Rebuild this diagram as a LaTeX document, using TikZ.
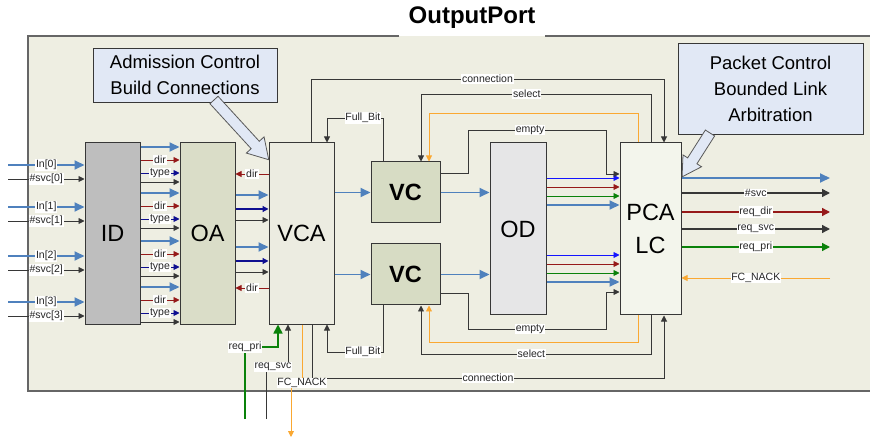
\documentclass[tikz,border=0pt]{standalone}
\usepackage{fontspec}
\setmainfont{Liberation Sans}
\usetikzlibrary{arrows.meta}
\definecolor{portbg}{RGB}{238,238,226}
\definecolor{lnsteel}{RGB}{79,129,189}
\definecolor{lnred}{RGB}{150,25,25}
\definecolor{lnnavy}{RGB}{15,15,145}
\definecolor{lnblue}{RGB}{20,20,255}
\definecolor{lngreen}{RGB}{10,130,10}
\definecolor{lnorange}{RGB}{250,168,50}
\definecolor{lnwire}{RGB}{55,55,55}
\definecolor{notebg}{RGB}{225,232,245}
\definecolor{idfill}{RGB}{190,190,190}
\definecolor{oafill}{RGB}{218,221,200}
\definecolor{vcfill}{RGB}{215,220,196}
\definecolor{vcafill}{RGB}{236,236,225}
\definecolor{odfill}{RGB}{230,230,231}
\definecolor{pcafill}{RGB}{243,245,236}
\begin{document}
\begin{tikzpicture}[x=1pt,y=-1pt,blk/.style={draw=lnwire, line width=1pt, inner sep=0pt, align=center, font=\fontsize{23.5}{33}\selectfont},note/.style={draw=lnwire, line width=0.9pt, fill=notebg, inner sep=0pt, align=center, font=\fontsize{18.5}{26}\selectfont},lbl/.style={fill=white, text=black!85, inner sep=0.7pt, font=\fontsize{10.5}{12}\selectfont},sig/.style={color=lnwire, line width=0.9pt, -{Triangle[length=6pt,width=6pt]}},wide/.style={line width=1.4pt, -{Triangle[length=8pt,width=8pt]}},bus/.style={color=lnsteel, line width=1.8pt, -{Triangle[length=10pt,width=9pt]}},pointer/.style={draw=gray!70!black, line width=0.8pt, fill=notebg}]
\useasboundingbox (0,0) rectangle (870,438);
\fill[portbg] (28,36) rectangle (870,391);
\draw[gray!80!black, line width=1.3pt] (399,36) -- (28,36) -- (28,391) -- (870,391) (545,36) -- (870,36);
\node[font=\bfseries\fontsize{24}{26}\selectfont, anchor=base] (title) at (472,24) {OutputPort};
\node[blk, fill=idfill, minimum width=55pt, minimum height=181pt] (ID) at (112.5,233.5) {ID};
\node[blk, fill=oafill, minimum width=55pt, minimum height=181pt] (OA) at (207.5,233.5) {OA};
\node[blk, fill=vcafill, minimum width=65pt, minimum height=181pt] (VCA) at (301.5,233.5) {VCA};
\node[blk, fill=vcfill, minimum width=69pt, minimum height=61pt, font=\bfseries\fontsize{23.5}{26}\selectfont] (VC1) at (405.5,192.5) {VC};
\node[blk, fill=vcfill, minimum width=69pt, minimum height=61pt, font=\bfseries\fontsize{23.5}{26}\selectfont] (VC2) at (405.5,274.5) {VC};
\node[blk, fill=odfill, minimum width=56pt, minimum height=172pt] (OD) at (518,229) {OD};
\node[blk, fill=pcafill, minimum width=61pt, minimum height=172pt] (PCA) at (650.5,229) {PCA\\LC};
\foreach \k/\y in {0/165,1/207,2/256,3/302} {
  \coordinate (in\k) at (8,\y);
  \coordinate (sv\k) at (8,\y+14);
  \draw[bus] (in\k) -- node[lbl]{In[\k]} (ID.west |- in\k);
  \draw[sig] (sv\k) -- node[lbl]{\#svc[\k]} (ID.west |- sv\k);
}
\foreach \y in {147,193,241,287} {
  \draw[bus] (ID.east |- 0,\y) -- (OA.west |- 0,\y);
  \draw[sig, lnred] (ID.east |- 0,\y+13) -- node[lbl]{dir} (OA.west |- 0,\y+13);
  \draw[sig, lnnavy] (ID.east |- 0,\y+26) -- node[lbl]{type} (OA.west |- 0,\y+26);
  \draw[sig] (ID.east |- 0,\y+35) -- (OA.west |- 0,\y+35);
}
\foreach \y in {174,288} \draw[sig, lnred] (VCA.west |- 0,\y) -- node[lbl]{dir} (OA.east |- 0,\y);
\foreach \y in {195,247} {
  \draw[bus] (OA.east |- 0,\y) -- (VCA.west |- 0,\y);
  \draw[sig, lnnavy, line width=1.2pt] (OA.east |- 0,\y+14) -- (VCA.west |- 0,\y+14);
  \draw[sig] (OA.east |- 0,\y+25) -- (VCA.west |- 0,\y+25);
}
\foreach \v in {VC1,VC2} {
  \draw[bus] (VCA.east |- \v.west) -- (\v.west);
  \draw[bus] (\v.east) -- (OD.west |- \v.east);
}
\foreach \y in {178,255} {
  \draw[sig, lnblue] (OD.east |- 0,\y) -- (PCA.west |- 0,\y);
  \draw[sig, lnred] (OD.east |- 0,\y+9) -- (PCA.west |- 0,\y+9);
  \draw[sig, lngreen] (OD.east |- 0,\y+18) -- (PCA.west |- 0,\y+18);
  \draw[bus] (OD.east |- 0,\y+27) -- (PCA.west |- 0,\y+27);
}
\draw[sig] (VCA.north -| 311,0) -- (311,79) -- node[lbl]{connection} (664,79) -- (PCA.north -| 664,0);
\draw[sig] (PCA.north -| 651,0) -- (651,94) -- node[lbl,pos=0.54]{select} (421,94) -- (VC1.north -| 421,0);
\draw[sig, lnorange] (PCA.north -| 638,0) -- (638,113) -- (429,113) -- (VC1.north -| 429,0);
\draw[sig] (VC1.east |- 0,173) -| (468,130) -- node[lbl,pos=0.45]{empty} (606,130) |- (PCA.west |- 0,174);
\draw[sig] (VC1.north -| 383,0) -- (383,118) -- node[lbl,pos=0.36]{Full\_Bit} (327,118) -- (VCA.north -| 327,0);
\draw[sig] (VC2.south -| 383,0) -- (383,352) -- node[lbl,pos=0.36]{Full\_Bit} (327,352) -- (VCA.south -| 327,0);
\draw[sig] (VC2.east |- 0,293) -| (468,329) -- node[lbl,pos=0.45]{empty} (606,329) |- (PCA.west |- 0,292);
\draw[sig, lnorange] (PCA.south -| 638,0) -- (638,342) -- (429,342) -- (VC2.south -| 429,0);
\draw[sig] (PCA.south -| 651,0) -- (651,354) -- node[lbl,pos=0.52]{select} (421,354) -- (VC2.south -| 421,0);
\draw[sig] (VCA.south -| 312,0) -- (312,378) -- node[lbl]{connection} (664,378) -- (PCA.south -| 664,0);
\coordinate (pri) at (245,419);
\coordinate (svc) at (266,419);
\coordinate (nack) at (291,437);
\draw[sig, lngreen, line width=1.6pt, -{Triangle[length=9pt,width=9pt]}] (pri) |- node[lbl]{req\_pri} (278,347) -- (VCA.south -| 278,0);
\draw[sig] (svc) |- node[lbl,xshift=7pt]{req\_svc} (288,367) -- (VCA.south -| 288,0);
\draw[sig, lnorange] (VCA.south -| 302,0) |- node[lbl]{FC\_NACK} (291,383) -- (nack);
\coordinate (pbus) at (830,178);
\draw[bus] (PCA.east |- pbus) -- (pbus);
\foreach \y/\c/\t in {193/lnwire/\#svc,212/lnred/req\_dir,229/lnwire/req\_svc,247/lngreen/req\_pri} {
  \coordinate (p\y) at (830,\y);
  \draw[sig, wide, \c] (PCA.east |- p\y) -- node[lbl]{\t} (p\y);
}
\coordinate (pnack) at (830,278);
\draw[sig, lnorange] (pnack) -- node[lbl]{FC\_NACK} (PCA.east |- pnack);
\node[note, minimum width=184pt, minimum height=54pt] (adm) at (185,75) {Admission Control\\Build Connections};
\node[note, minimum width=185pt, minimum height=91pt] (pkt) at (770.5,88.5) {Packet Control\\Bounded Link\\Arbitration};
\draw[pointer, shift={(214,100)}, rotate=-47.5] (0,-5.5) -- (61,-5.5) -- (61,-12) -- (81,0) -- (61,12) -- (61,5.5) -- (0,5.5) -- cycle;
\draw[pointer, shift={(710,133)}, rotate=-122.5] (0,-5.5) -- (33,-5.5) -- (33,-11) -- (52,0) -- (33,11) -- (33,5.5) -- (0,5.5) -- cycle;
\end{tikzpicture}
\end{document}
